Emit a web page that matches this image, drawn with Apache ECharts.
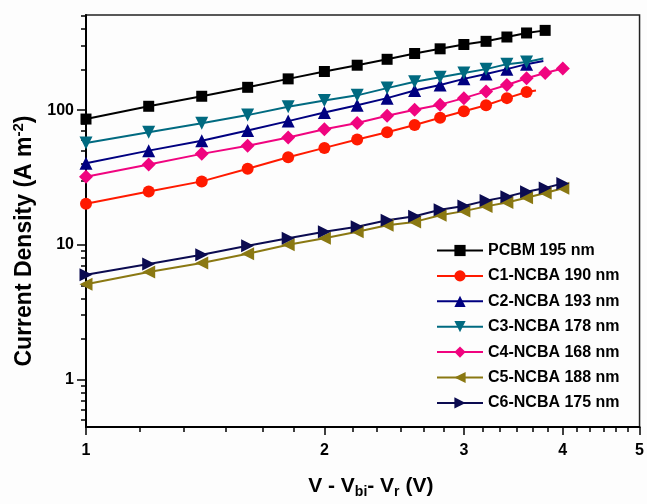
<!DOCTYPE html>
<html>
<head>
<meta charset="utf-8">
<script src="https://cdn.jsdelivr.net/npm/echarts@6/dist/echarts.min.js"></script>
<style>
  html, body { margin: 0; padding: 0; background: #fdfdfd; }
  #chart { width: 647px; height: 504px; }
</style>
</head>
<body>
<div id="chart"></div>
<script>
// x values (V - Vbi - Vr), step 0.2
const xFull = [1.0, 1.2, 1.4, 1.6, 1.8, 2.0, 2.2, 2.4, 2.6, 2.8, 3.0, 3.2, 3.4, 3.6, 3.8, 4.0];

// current density, A m^-2
const pcbm = [86, 107, 127, 148, 171, 194, 216, 239, 264, 286, 308, 325, 350, 375, 392];
const c1 = [20.2, 24.9, 29.6, 36.8, 44.8, 52.5, 60.7, 68.7, 77.6, 88, 98.3, 108.8, 123, 136.5];
const c2 = [40.3, 50.1, 59.3, 70.6, 83, 96.2, 109, 123, 140, 154, 171, 186, 202, 220];
const c3 = [57, 68.7, 80, 92, 106, 118, 129, 146, 163, 176, 189, 202, 220, 228];
const c4 = [32.1, 39.5, 47.4, 54.5, 62.8, 72.2, 80.5, 91, 101, 110, 123, 138, 154, 173, 189, 204];
const c5 = [5.1, 6.27, 7.33, 8.59, 10.0, 11.2, 12.5, 14.0, 14.8, 16.6, 17.8, 19.3, 20.6, 22.4, 24.3, 26.3];
const c6 = [6.0, 7.21, 8.45, 9.84, 11.2, 12.5, 13.6, 15.2, 16.3, 18.2, 19.4, 21.3, 22.8, 24.8, 26.4, 28.6];

// last line points drawn without a marker
const c1End = [3.7, 140];
const c2End = [3.78, 232];
const c3End = [3.78, 242];

const names = ['PCBM 195 nm', 'C1-NCBA 190 nm', 'C2-NCBA 193 nm', 'C3-NCBA 178 nm',
               'C4-NCBA 168 nm', 'C5-NCBA 188 nm', 'C6-NCBA 175 nm'];

const xMajorTicks = [1, 2, 3, 4, 5];
const xMinorTicks = [1.17, 1.33, 1.5, 1.67, 1.83, 2.17, 2.33, 2.5, 2.67, 2.83,
                     3.17, 3.33, 3.5, 3.67, 3.83, 4.17, 4.33, 4.5, 4.67, 4.83];
const yMajorTicks = [1, 10, 100];
const yMinorTicks = [0.5, 0.6, 0.7, 0.8, 0.9, 2, 3, 4, 5, 6, 7, 8, 9,
                     20, 30, 40, 50, 60, 70, 80, 90, 200, 300, 400, 500];

const font = 'Liberation Sans, Arial, sans-serif';

function pairs(ys, end) {
  const d = ys.map((y, i) => [xFull[i], y]);
  if (end) d.push({ value: end, symbol: 'none' });
  return d;
}

function line(name, data, color, symbol, size, rotate) {
  return {
    name: name,
    type: 'line',
    data: data,
    symbol: symbol,
    symbolSize: size,
    symbolRotate: rotate || 0,
    showAllSymbol: true,
    lineStyle: { color: color, width: 2 },
    itemStyle: { color: color },
    animation: false
  };
}

const chart = echarts.init(document.getElementById('chart'));

chart.setOption({
  backgroundColor: '#fdfdfd',
  grid: {
    left: 86, right: 4.5, top: 15, bottom: 70.7,
    show: true, borderColor: '#222', borderWidth: 1.5
  },
  legend: {
    data: names,
    orient: 'vertical',
    left: 436,
    top: 242.5,
    padding: 0,
    itemWidth: 46,
    itemHeight: 14,
    itemGap: 9.4,
    textStyle: { color: '#000', fontSize: 16, fontWeight: 'bold', fontFamily: font }
  },
  xAxis: [
    {
      type: 'log', min: 1, max: 5, position: 'bottom',
      name: 'V - V{sub|bi}- V{sub|r} (V)',
      nameLocation: 'middle', nameGap: 46,
      nameTextStyle: {
        color: '#000', fontSize: 21, fontWeight: 'bold', fontFamily: font,
        padding: [0, 0, 0, 16],
        rich: { sub: { fontSize: 14, fontWeight: 'bold', fontFamily: font, verticalAlign: 'bottom', padding: [12, 0, 0, 0] } }
      },
      axisLine: { lineStyle: { color: '#000', width: 2 } },
      axisTick: { customValues: xMajorTicks, length: 8, lineStyle: { color: '#000', width: 1.5 } },
      axisLabel: { customValues: xMajorTicks, margin: 16, color: '#000', fontSize: 16, fontWeight: 'bold', fontFamily: font },
      splitLine: { show: false }
    },
    {
      type: 'log', min: 1, max: 5, position: 'bottom',
      axisLine: { show: false },
      axisTick: { customValues: xMinorTicks, length: 5, lineStyle: { color: '#000', width: 1.5 } },
      axisLabel: { show: false },
      splitLine: { show: false }
    }
  ],
  yAxis: [
    {
      type: 'log', min: 0.443, max: 510, position: 'left',
      name: 'Current Density (A m{sup|-2})',
      nameLocation: 'middle', nameGap: 46,
      nameTextStyle: {
        color: '#000', fontSize: 23, fontWeight: 'bold', fontFamily: font,
        padding: [0, 40, 0, 0],
        rich: { sup: { fontSize: 15, fontWeight: 'bold', fontFamily: font, verticalAlign: 'top', padding: [0, 0, 13, 0] } }
      },
      axisLine: { lineStyle: { color: '#000', width: 2 } },
      axisTick: { customValues: yMajorTicks, length: 9, lineStyle: { color: '#000', width: 1.5 } },
      axisLabel: { customValues: yMajorTicks, margin: 12, color: '#000', fontSize: 16, fontWeight: 'bold', fontFamily: font },
      splitLine: { show: false }
    },
    {
      type: 'log', min: 0.443, max: 510, position: 'left',
      axisLine: { show: false },
      axisTick: { customValues: yMinorTicks, length: 5, lineStyle: { color: '#000', width: 1.5 } },
      axisLabel: { show: false },
      splitLine: { show: false }
    }
  ],
  series: [
    line(names[0], pairs(pcbm), '#000000', 'rect', 11),
    line(names[1], pairs(c1, c1End), '#ff1a00', 'circle', 12),
    line(names[2], pairs(c2, c2End), '#000080', 'triangle', 13),
    line(names[3], pairs(c3, c3End), '#006a80', 'triangle', 13, 180),
    line(names[4], pairs(c4), '#f0047f', 'diamond', 14),
    line(names[5], pairs(c5), '#8a7812', 'triangle', 13, 90),
    line(names[6], pairs(c6), '#0b0b50', 'triangle', 13, -90)
  ]
});
</script>
</body>
</html>
